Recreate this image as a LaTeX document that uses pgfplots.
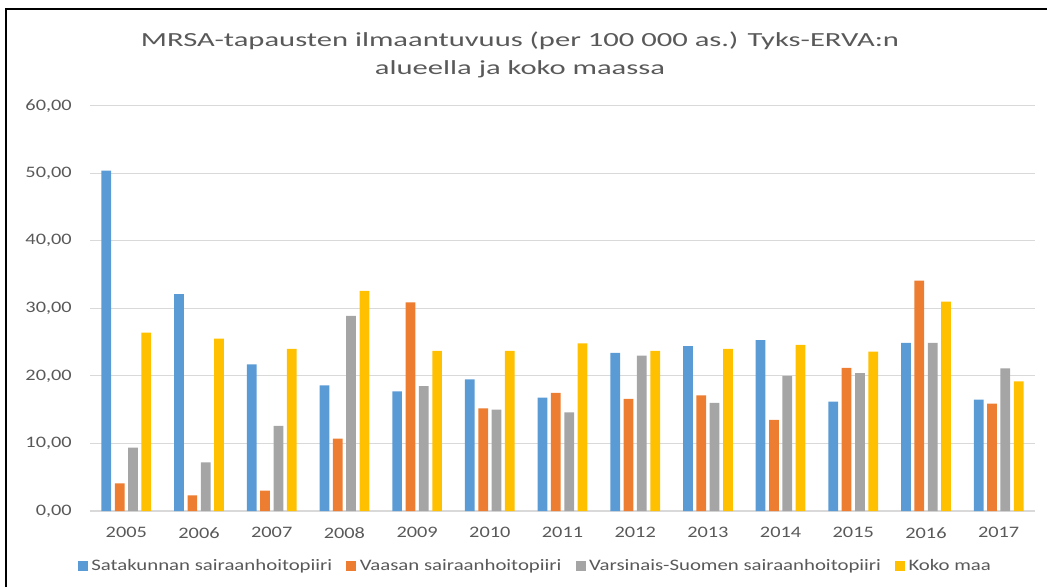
\documentclass[border=0pt]{standalone}
\usepackage{pgfplots}
\usepackage{pgfplotstable}
\pgfplotsset{compat=1.18}
\usepackage{fontspec}
\setmainfont{Carlito}
\newfontfamily\titlefont{Carlito}[FakeStretch=1.53]
\newfontfamily\tickfont{Carlito}[FakeStretch=1.27]
\newfontfamily\legfont{Carlito}[FakeStretch=1.3]
\definecolor{cblue}{HTML}{5B9BD5}
\definecolor{corange}{HTML}{ED7D31}
\definecolor{cgrey}{HTML}{A5A5A5}
\definecolor{cyellow}{HTML}{FFC000}
\definecolor{txt}{HTML}{595959}
\definecolor{gridc}{HTML}{D9D9D9}

\pgfplotstableread{
x  sat   vaa   var   koko
0  50.4  4.1   9.4   26.4
1  32.1  2.3   7.2   25.5
2  21.7  3.0   12.6  24.0
3  18.6  10.7  28.9  32.6
4  17.7  30.9  18.5  23.7
5  19.5  15.2  15.0  23.7
6  16.8  17.5  14.6  24.8
7  23.4  16.6  23.0  23.7
8  24.4  17.1  16.0  24.0
9  25.3  13.5  20.0  24.6
10 16.2  21.2  20.4  23.6
11 24.9  34.1  24.9  31.0
12 16.5  15.9  21.1  19.2
}\data

\begin{document}
\begin{tikzpicture}
\useasboundingbox (0,0) rectangle (785.25pt,440.25pt);
\draw[line width=1.5pt] (4.5pt,0pt) -- (4.5pt,433.5pt) -- (785.25pt,433.5pt);
\node[font=\titlefont\fontsize{15}{18}\selectfont, text=txt, anchor=base, inner sep=0pt]
  at (390pt,405pt) {MRSA-tapausten ilmaantuvuus (per 100 000 as.) Tyks-ERVA:n};
\node[font=\titlefont\fontsize{15}{18}\selectfont, text=txt, anchor=base, inner sep=0pt]
  at (390pt,384pt) {alueella ja koko maassa};
\begin{axis}[
  at={(67.5pt,57pt)}, anchor=south west,
  scale only axis, width=708.75pt, height=304pt,
  ymin=0, ymax=60, ytick={0,10,...,60},
  xmin=-0.5, xmax=12.5,
  xtick={0,...,12},
  xticklabels={2005,2006,2007,2008,2009,2010,2011,2012,2013,2014,2015,2016,2017},
  ymajorgrids, grid style={draw=gridc, line width=0.9pt},
  axis line style={draw=none},
  major tick length=0pt,
  yticklabel={\pgfmathprintnumber[fixed, fixed zerofill, precision=2, use comma, assume math mode=true]{\tick}},
  yticklabel style={font=\tickfont\fontsize{12}{12}\selectfont, text=txt, inner sep=0pt, anchor=east, xshift=-13.5pt},
  xticklabel style={font=\tickfont\fontsize{12}{12}\selectfont, text=txt, inner sep=0pt, anchor=north, yshift=-12pt},
  ybar=2.7pt, bar width=7.3pt,
  legend columns=4,
  legend style={draw=none, fill=none, at={(0.4720,-0.1357)}, anchor=center,
    font=\legfont\fontsize{12}{12}\selectfont, text=txt,
    /tikz/every even column/.append style={column sep=8pt},
    nodes={inner sep=2.5pt}},
  legend image code/.code={\fill[#1] (0pt,-3.8pt) rectangle (7.6pt,3.8pt);},
]
\addplot[fill=cblue, draw=none] table[x=x, y=sat] {\data};
\addplot[fill=corange, draw=none] table[x=x, y=vaa] {\data};
\addplot[fill=cgrey, draw=none] table[x=x, y=var] {\data};
\addplot[fill=cyellow, draw=none] table[x=x, y=koko] {\data};
\legend{Satakunnan sairaanhoitopiiri, Vaasan sairaanhoitopiiri, Varsinais-Suomen sairaanhoitopiiri, Koko maa}
\end{axis}
\end{tikzpicture}
\end{document}
